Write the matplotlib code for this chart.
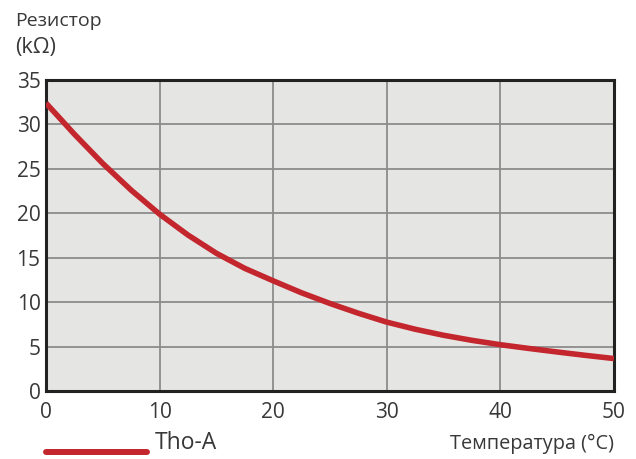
import matplotlib.pyplot as plt

# resistance of the thermistor vs temperature
temps = [0, 2.5, 5, 7.5, 10, 12.5, 15, 17.5, 20, 22.5, 25, 27.5, 30,
         32.5, 35, 37.5, 40, 42.5, 45, 47.5, 50]
resist = [32.4, 28.9, 25.6, 22.6, 19.9, 17.55, 15.5, 13.8, 12.4, 11.05, 9.85, 8.75, 7.75,
          6.95, 6.27, 5.7, 5.21, 4.79, 4.39, 4.01, 3.65]

x_ticks = [0, 10, 20, 30, 40, 50]
y_ticks = [0, 5, 10, 15, 20, 25, 30, 35]

plt.rcParams['font.family'] = ['Open Sans', 'DejaVu Sans']
text_col = '#383838'
red = '#c4262e'

fig = plt.figure(figsize=(6.36, 4.59), dpi=100)
ax = fig.add_axes([46/636, 1 - 391/459, 568/636, 311/459])
ax.set_facecolor('#e5e6e3')

ax.plot(temps, resist, color=red, lw=4.0, solid_capstyle='butt',
        solid_joinstyle='round', zorder=3)

ax.set_xlim(0, 50)
ax.set_ylim(0, 35)
ax.set_xticks(x_ticks)
ax.set_yticks(y_ticks)
ax.grid(True, color='#8c8c8c', lw=1.3)
ax.set_axisbelow(True)
ax.tick_params(length=0, labelsize=15, labelcolor=text_col)
ax.tick_params(axis='x', pad=8)
ax.tick_params(axis='y', pad=4)

for s in ax.spines.values():
    s.set_color('#222222')
    s.set_linewidth(2.2)

fig.text(15/636, 1 - 21/459, 'Резистор', fontsize=14, color=text_col, va='center', ha='left')
fig.text(15/636, 1 - 47/459, '(kΩ)', fontsize=15.5, color=text_col, va='center', ha='left')

fig.text(614/636, 1 - 444/459, 'Температура (°C)', fontsize=14.3, color=text_col,
         va='center', ha='right')

# legend drawn by hand below the axes
fig.add_artist(plt.Line2D([46/636, 147/636], [1 - 452/459, 1 - 452/459],
                          color=red, lw=4.3, solid_capstyle='round'))
fig.text(155/636, 1 - 443/459, 'Tho-A', fontsize=16.5, color=text_col, va='center', ha='left')

fig.savefig('out.png', dpi=100)
